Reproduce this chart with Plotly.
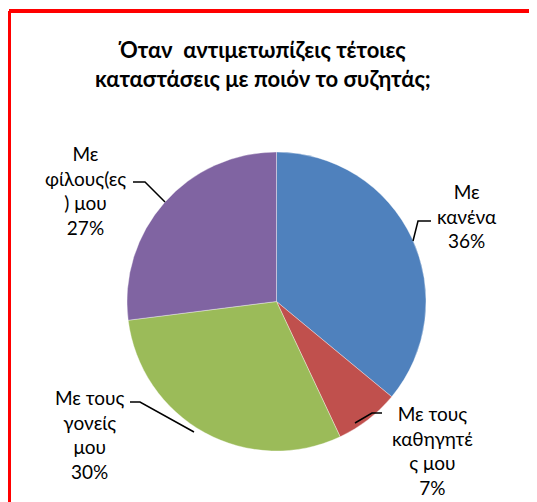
import plotly.graph_objects as go

W, H = 537, 502
# the page puts the figure 8px in from the top-left corner
OFF = 8

labels = ["Με κανένα", "Με τους καθηγητές μου", "Με τους γονείς μου", "Με φίλους(ες) μου"]
values = [36, 7, 30, 27]
label_lines = [
    ["Με", "κανένα"],
    ["Με τους", "καθηγητέ", "ς μου"],
    ["Με τους", "γονείς", "μου"],
    ["Με", "φίλους(ες", ") μου"],
]
colors = ["#4F81BD", "#C0504D", "#9BBB59", "#8064A2"]

title_lines = ["Όταν  αντιμετωπίζεις τέτοιες", "καταστάσεις με ποιόν το συζητάς;"]


def px(x):
    return (x - OFF) / W


def py(y):
    return 1 - (y - OFF) / H


fig = go.Figure()

fig.add_trace(
    go.Pie(
        labels=labels,
        values=values,
        sort=False,
        direction="clockwise",
        rotation=0,
        textinfo="none",
        marker=dict(colors=colors, line=dict(color="rgba(255,255,255,0.6)", width=0.6)),
        domain=dict(x=[px(127), px(426)], y=[py(451), py(152)]),
        showlegend=False,
    )
)

# chart border: left and top edges only are in view
fig.add_shape(type="line", xref="paper", yref="paper",
              x0=px(9), x1=px(9), y0=0, y1=py(11),
              line=dict(color="red", width=4))
fig.add_shape(type="line", xref="paper", yref="paper",
              x0=px(9), x1=1, y0=py(11), y1=py(11),
              line=dict(color="red", width=4))

# label block centres and leader lines (pixel positions)
label_pos = [(467, 216), (432, 450), (90, 434), (85, 190)]
leaders = [
    [(413, 241), (418, 221), (431, 221)],
    [(355, 423), (372, 413), (382, 413)],
    [(194, 432), (140, 402), (130, 402)],
    [(165, 202), (145, 182), (133, 182)],
]

total = sum(values)
for lines, v, (x, y) in zip(label_lines, values, label_pos):
    text = "<br>".join(lines + [f"{round(100 * v / total)}%"])
    fig.add_annotation(
        x=px(x), y=py(y), xref="paper", yref="paper",
        text=text, showarrow=False, xanchor="center", yanchor="middle",
        font=dict(family="Lato, Noto Sans, sans-serif", size=19, color="#000000"),
    )

for pts in leaders:
    path = "M " + " L ".join(f"{px(a)},{py(b)}" for a, b in pts)
    fig.add_shape(type="path", path=path, xref="paper", yref="paper",
                  line=dict(color="#000000", width=1.5))

fig.add_annotation(
    x=px(263), y=py(64), xref="paper", yref="paper",
    text="<b>" + "<br>".join(title_lines) + "</b>", showarrow=False,
    xanchor="center", yanchor="middle",
    font=dict(family="Lato, Noto Sans, sans-serif", size=22, color="#000000"),
)

fig.update_layout(
    width=W, height=H,
    margin=dict(l=0, r=0, t=0, b=0),
    paper_bgcolor="white",
)

fig.write_html("out.html")
